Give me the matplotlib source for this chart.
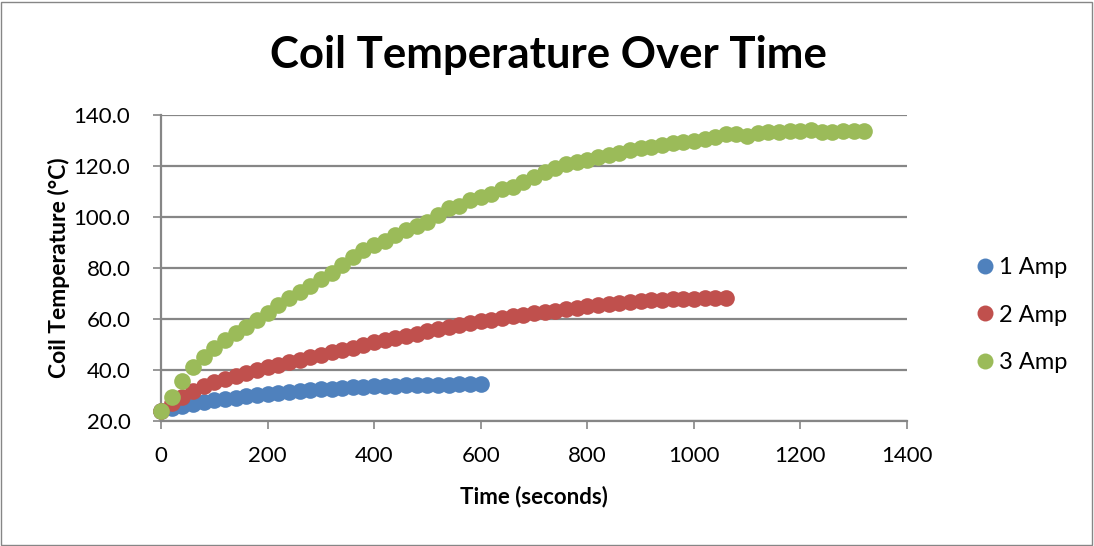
import matplotlib.pyplot as plt
from matplotlib.patches import Rectangle
from matplotlib.lines import Line2D

# Coil temperature (deg C) sampled every 20 s
time_1a = list(range(0, 601, 20))
temp_1a = [24.0, 25.0, 26.0, 26.8, 27.5, 28.1, 28.7, 29.2, 29.7, 30.2,
           30.6, 31.0, 31.4, 31.7, 32.0, 32.4, 32.7, 33.0, 33.2, 33.4,
           33.6, 33.8, 33.9, 34.0, 34.1, 34.2, 34.3, 34.3, 34.4, 34.4, 34.5]

time_2a = list(range(0, 1061, 20))
temp_2a = [24.0, 27.0, 29.5, 31.8, 33.8, 35.3, 36.5, 37.5, 38.8, 40.0,
           41.0, 42.0, 43.0, 44.0, 45.0, 46.0, 47.0, 47.8, 48.8, 49.8,
           50.8, 51.7, 52.5, 53.3, 54.3, 55.3, 56.0, 56.8, 57.5, 58.3,
           59.2, 59.8, 60.5, 61.0, 61.6, 62.2, 62.8, 63.3, 63.9, 64.5,
           65.0, 65.5, 66.0, 66.4, 66.8, 67.1, 67.4, 67.6, 67.8, 67.9,
           68.0, 68.1, 68.1, 68.2]

time_3a = list(range(0, 1321, 20))
temp_3a = [24.0, 29.5, 35.8, 41.3, 45.2, 48.5, 51.8, 54.6, 57.0, 59.6,
           62.5, 65.5, 68.2, 70.5, 73.0, 75.5, 78.0, 81.0, 84.5, 87.0,
           89.0, 90.5, 92.8, 94.8, 96.5, 98.0, 100.8, 103.5, 104.5, 106.5,
           108.0, 109.0, 110.8, 111.8, 113.8, 115.8, 117.8, 119.1, 120.8, 121.7,
           122.4, 123.4, 124.3, 125.2, 126.3, 126.9, 127.6, 128.2, 128.9, 129.5,
           129.7, 130.5, 131.3, 132.5, 132.5, 131.9, 132.8, 133.3, 133.5, 133.9,
           133.9, 134.3, 133.5, 133.5, 133.9, 133.9, 133.9]

labels = ['1 Amp', '2 Amp', '3 Amp']
colors = ['#4F81BD', '#C0504D', '#9BBB59']

FONT = ['Lato', 'DejaVu Sans']
GRID = '#868686'

fig = plt.figure(figsize=(10.94, 5.46), dpi=100)
ax = fig.add_axes([161 / 1094, 1 - 421 / 546, 746 / 1094, 306 / 546])

# chart border
fig.patches.append(Rectangle((0.001, 0.002), 0.997, 0.995, transform=fig.transFigure,
                             fill=False, edgecolor=GRID, linewidth=1.0))

for t, v, c in zip([time_1a, time_2a, time_3a], [temp_1a, temp_2a, temp_3a], colors):
    ax.plot(t, v, 'o', color=c, markersize=12, markeredgewidth=0, zorder=3, clip_on=False)

ax.set_xlim(0, 1400)
ax.set_ylim(20, 140)
ax.set_xticks(range(0, 1401, 200))
ax.set_yticks(range(20, 141, 20))
ax.set_yticklabels([f'{v:.1f}' for v in range(20, 141, 20)])

ax.yaxis.grid(True, color=GRID, linewidth=1.6)
ax.set_axisbelow(True)
for s in ['top', 'right']:
    ax.spines[s].set_visible(False)
for s in ['left', 'bottom']:
    ax.spines[s].set_color(GRID)
    ax.spines[s].set_linewidth(1.6)
ax.tick_params(axis='both', direction='out', length=6, width=1.2, color=GRID,
               labelsize=16, labelcolor='black')
ax.tick_params(axis='y', pad=16)
ax.tick_params(axis='x', pad=12)
for lab in ax.get_xticklabels() + ax.get_yticklabels():
    lab.set_family(FONT)

ax.set_xlabel('Time (seconds)', fontsize=16, fontweight='bold', family=FONT, labelpad=14)
ax.set_ylabel('Coil Temperature (°C)', fontsize=16.5, fontweight='bold', family=FONT, labelpad=3)
fig.text(0.501, 0.9, 'Coil Temperature Over Time', ha='center', va='center',
         fontsize=31.5, fontweight='bold', family=FONT)

handles = [Line2D([], [], linestyle='none', marker='o', markersize=11.5,
                  markeredgewidth=0, color=c) for c in colors]
fig.legend(handles, labels, loc='center left', bbox_to_anchor=(0.868, 0.423),
           frameon=False, prop={'family': FONT, 'size': 17}, handletextpad=0.0,
           labelspacing=1.12, handlelength=1.2)

fig.savefig('out.png', dpi=100)
